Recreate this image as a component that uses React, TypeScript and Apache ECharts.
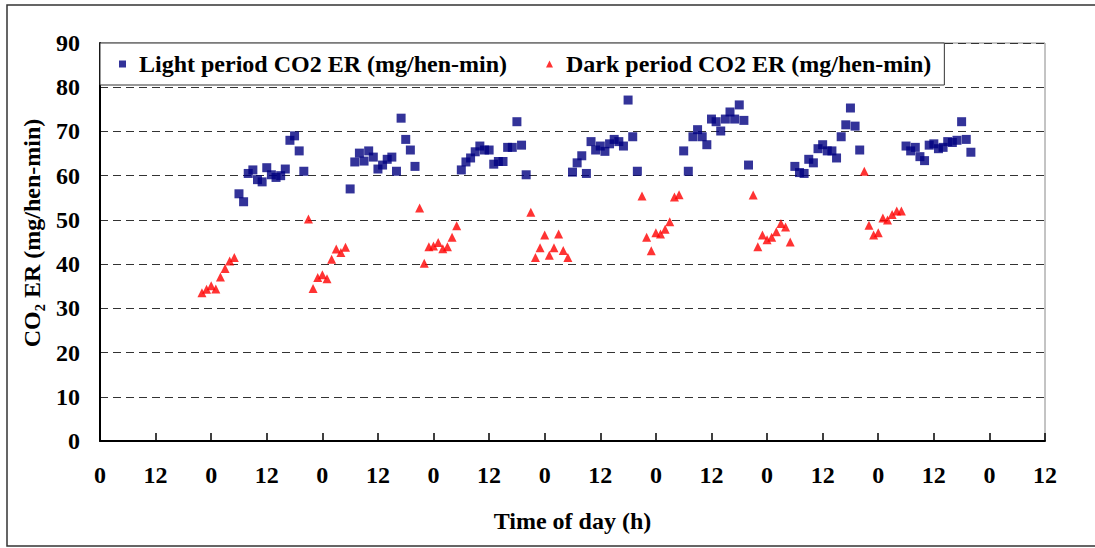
import React, { useEffect, useRef } from "react";
import * as echarts from "echarts";

const lightHours = [
  30, 31, 32, 33, 34, 35, 36, 37, 38, 39, 40, 41, 42, 43, 44,
  54, 55, 56, 57, 58, 59, 60, 61, 62, 63, 64, 65, 66, 67, 68,
  78, 79, 80, 81, 82, 83, 84, 85, 86, 87, 88, 89, 90, 91, 92,
  102, 103, 104, 105, 106, 107, 108, 109, 110, 111, 112, 113, 114, 115, 116,
  126, 127, 128, 129, 130, 131, 132, 133, 134, 135, 136, 137, 138, 139, 140,
  150, 151, 152, 153, 154, 155, 156, 157, 158, 159, 160, 161, 162, 163, 164,
  174, 175, 176, 177, 178, 179, 180, 181, 182, 183, 184, 185, 186, 187, 188,
];
const lightValues = [
  55.9, 54.1, 60.5, 61.3, 59.1, 58.6, 61.8, 60.2, 59.6, 60.0, 61.5, 68.0, 69.0, 65.6, 61.0,
  57.0, 63.1, 65.1, 63.3, 65.6, 64.2, 61.5, 62.4, 63.7, 64.2, 61.0, 73.0, 68.2, 65.8, 62.1,
  61.3, 63.1, 64.0, 65.4, 66.7, 65.8, 65.8, 62.6, 63.2, 63.2, 66.4, 66.4, 72.2, 66.9, 60.2,
  60.8, 62.9, 64.5, 60.5, 67.7, 65.8, 66.7, 65.5, 67.2, 68.2, 67.7, 66.7, 77.1, 68.8, 61.0,
  65.6, 61.0, 68.8, 70.4, 68.8, 67.0, 72.8, 72.2, 70.1, 72.8, 74.4, 72.8, 76.0, 72.5, 62.4,
  62.1, 60.7, 60.5, 63.7, 62.9, 66.1, 67.0, 65.6, 65.6, 64.0, 68.8, 71.5, 75.3, 71.2, 65.8,
  66.7, 65.6, 66.4, 64.3, 63.4, 66.9, 67.2, 66.1, 66.4, 67.7, 67.5, 68.0, 72.2, 68.2, 65.3,
];
const darkHours = [
  22, 23, 24, 25, 26, 27, 28, 29,
  45, 46, 47, 48, 49, 50, 51, 52, 53,
  69, 70, 71, 72, 73, 74, 75, 76, 77,
  93, 94, 95, 96, 97, 98, 99, 100, 101,
  117, 118, 119, 120, 121, 122, 123, 124, 125,
  141, 142, 143, 144, 145, 146, 147, 148, 149,
  165, 166, 167, 168, 169, 170, 171, 172, 173,
];
const darkValues = [
  33.5, 34.3, 35.1, 34.4, 37.1, 39.0, 40.7, 41.5,
  50.2, 34.5, 37.0, 37.6, 36.7, 41.1, 43.4, 42.6, 43.8,
  52.7, 40.2, 43.9, 44.1, 44.9, 43.5, 43.9, 46.1, 48.7,
  51.7, 41.5, 43.7, 46.6, 42.0, 43.7, 46.8, 43.1, 41.5,
  55.4, 46.1, 43.0, 47.1, 46.8, 47.9, 49.6, 55.2, 55.7,
  55.6, 43.9, 46.6, 45.5, 46.1, 47.3, 49.2, 48.4, 45.0,
  61.0, 48.8, 46.6, 47.1, 50.4, 50.0, 51.2, 52.0, 52.0,
];

const lightName = "Light period CO2 ER (mg/hen-min)";
const darkName = "Dark period CO2 ER (mg/hen-min)";
const xTitle = "Time of day (h)";
const yTitle = "CO\u2082 ER (mg/hen-min)";

const FONT = '"Liberation Serif", "Times New Roman", serif';
const txt = { fontFamily: FONT, fontWeight: "bold" as const, fontSize: 24, color: "#000" };

export default function App() {
  const ref = useRef<HTMLDivElement>(null);
  useEffect(() => {
    document.body.style.margin = "0";
    const chart = echarts.init(ref.current!, null, { renderer: "svg" });
    chart.setOption({
      animation: false,
      backgroundColor: "#fff",
      grid: { left: 100, top: 43, right: 50, bottom: 107, show: true, borderColor: "#888", borderWidth: 1 },
      legend: {
        left: 100,
        top: 43,
        orient: "horizontal",
        itemWidth: 7,
        itemHeight: 7,
        itemGap: 39,
        padding: [9, 13, 9, 19],
        borderColor: "#333",
        borderWidth: 1,
        backgroundColor: "#fff",
        textStyle: { ...txt, padding: [0, 0, 0, 8] },
        data: [lightName, darkName],
      },
      xAxis: {
        type: "value",
        min: 0,
        max: 204,
        interval: 12,
        axisLine: { lineStyle: { color: "#000", width: 2 } },
        axisTick: { inside: true, length: 8, lineStyle: { color: "#000", width: 1.5 } },
        axisLabel: { ...txt, margin: 22, formatter: (v: number) => String(v % 24) },
        splitLine: { show: false },
        name: xTitle,
        nameLocation: "middle",
        nameGap: 68,
        nameTextStyle: txt,
      },
      yAxis: {
        type: "value",
        min: 0,
        max: 90,
        interval: 10,
        axisLine: { show: true, lineStyle: { color: "#000", width: 2 } },
        axisTick: { show: false },
        axisLabel: { ...txt, margin: 20 },
        splitLine: { lineStyle: { type: [8, 5], color: "#333", width: 1 } },
        name: yTitle,
        nameLocation: "middle",
        nameGap: 56,
        nameTextStyle: { ...txt, padding: [0, 0, 0, 18] },
      },
      graphic: [
        {
          type: "rect",
          silent: true,
          z: 100,
          shape: { x: 7, y: 5, width: 1100, height: 541 },
          style: { fill: "none", stroke: "#333", lineWidth: 1.5 },
        },
      ],
      series: [
        {
          name: lightName,
          type: "scatter",
          symbol: "rect",
          symbolSize: 9,
          itemStyle: { color: "#000080" },
          data: lightHours.map((h, i) => [h, lightValues[i]]),
        },
        {
          name: darkName,
          type: "scatter",
          symbol: "triangle",
          symbolSize: 9,
          itemStyle: { color: "#FF0000" },
          data: darkHours.map((h, i) => [h, darkValues[i]]),
        },
      ],
    });
    return () => chart.dispose();
  }, []);
  return <div ref={ref} style={{ width: 1095, height: 548 }} />;
}
